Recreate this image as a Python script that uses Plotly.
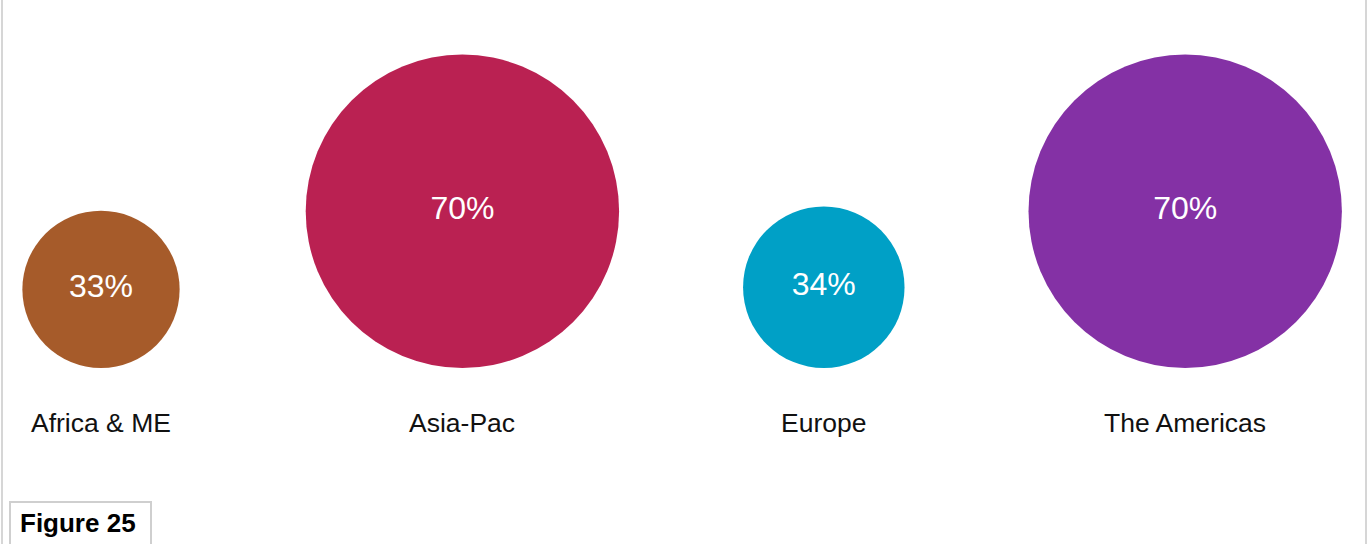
import plotly.graph_objects as go

# Regional shares
regions = ["Africa & ME", "Asia-Pac", "Europe", "The Americas"]
shares = [33, 70, 34, 70]
colors = ["#A65B2A", "#BA2152", "#00A0C6", "#8431A5"]
figure_label = "Figure 25"

W, H = 1370, 544
FONT = "Liberation Sans, Arial, Helvetica, sans-serif"

# Bubble diameter scale (px) and the common baseline the bubbles sit on
BASE_D, PX_PER_PCT = 18.0, 4.22
BASELINE = 368
LABEL_Y = 423

diam = [BASE_D + PX_PER_PCT * v for v in shares]
centre_y = [BASELINE - d / 2 for d in diam]

fig = go.Figure()
fig.add_trace(go.Scatter(
    x=regions,
    y=centre_y,
    mode="markers+text",
    marker=dict(size=diam, sizemode="diameter", color=colors,
                line=dict(width=0), opacity=1),
    text=[f"{v}%" for v in shares],
    textposition="middle center",
    textfont=dict(family=FONT, size=32, color="white"),
    hoverinfo="skip",
    cliponaxis=False,
    showlegend=False,
))

# Region names under the bubbles
for r in regions:
    fig.add_annotation(x=r, y=LABEL_Y, xref="x", yref="y", text=r,
                       showarrow=False, xanchor="center", yanchor="middle",
                       font=dict(family=FONT, size=26.5, color="#111111"))

# Frame lines at left and right
for xp in (2, W - 4):
    fig.add_shape(type="line", xref="paper", yref="paper",
                  x0=xp / W, x1=xp / W, y0=0, y1=1,
                  line=dict(color="#d6d6d6", width=2))

# Figure number box
fig.add_shape(type="rect", xref="paper", yref="y",
              x0=10 / W, x1=151 / W, y0=502, y1=H + 10,
              line=dict(color="#cfcfcf", width=2), fillcolor="white")
fig.add_annotation(x=18 / W, y=523, xref="paper", yref="y",
                   text=f"<b>{figure_label}</b>", showarrow=False,
                   xanchor="left", yanchor="middle",
                   font=dict(family=FONT, size=26, color="#000000"))

step = 361.4
first = 101
fig.update_layout(
    width=W, height=H,
    margin=dict(l=0, r=0, t=0, b=0),
    paper_bgcolor="white", plot_bgcolor="white",
    xaxis=dict(type="category", visible=False, fixedrange=True,
               range=[-first / step, 3 + (W - (first + 3 * step)) / step]),
    yaxis=dict(visible=False, range=[H, 0], fixedrange=True),
)

fig.write_html("out.html")
